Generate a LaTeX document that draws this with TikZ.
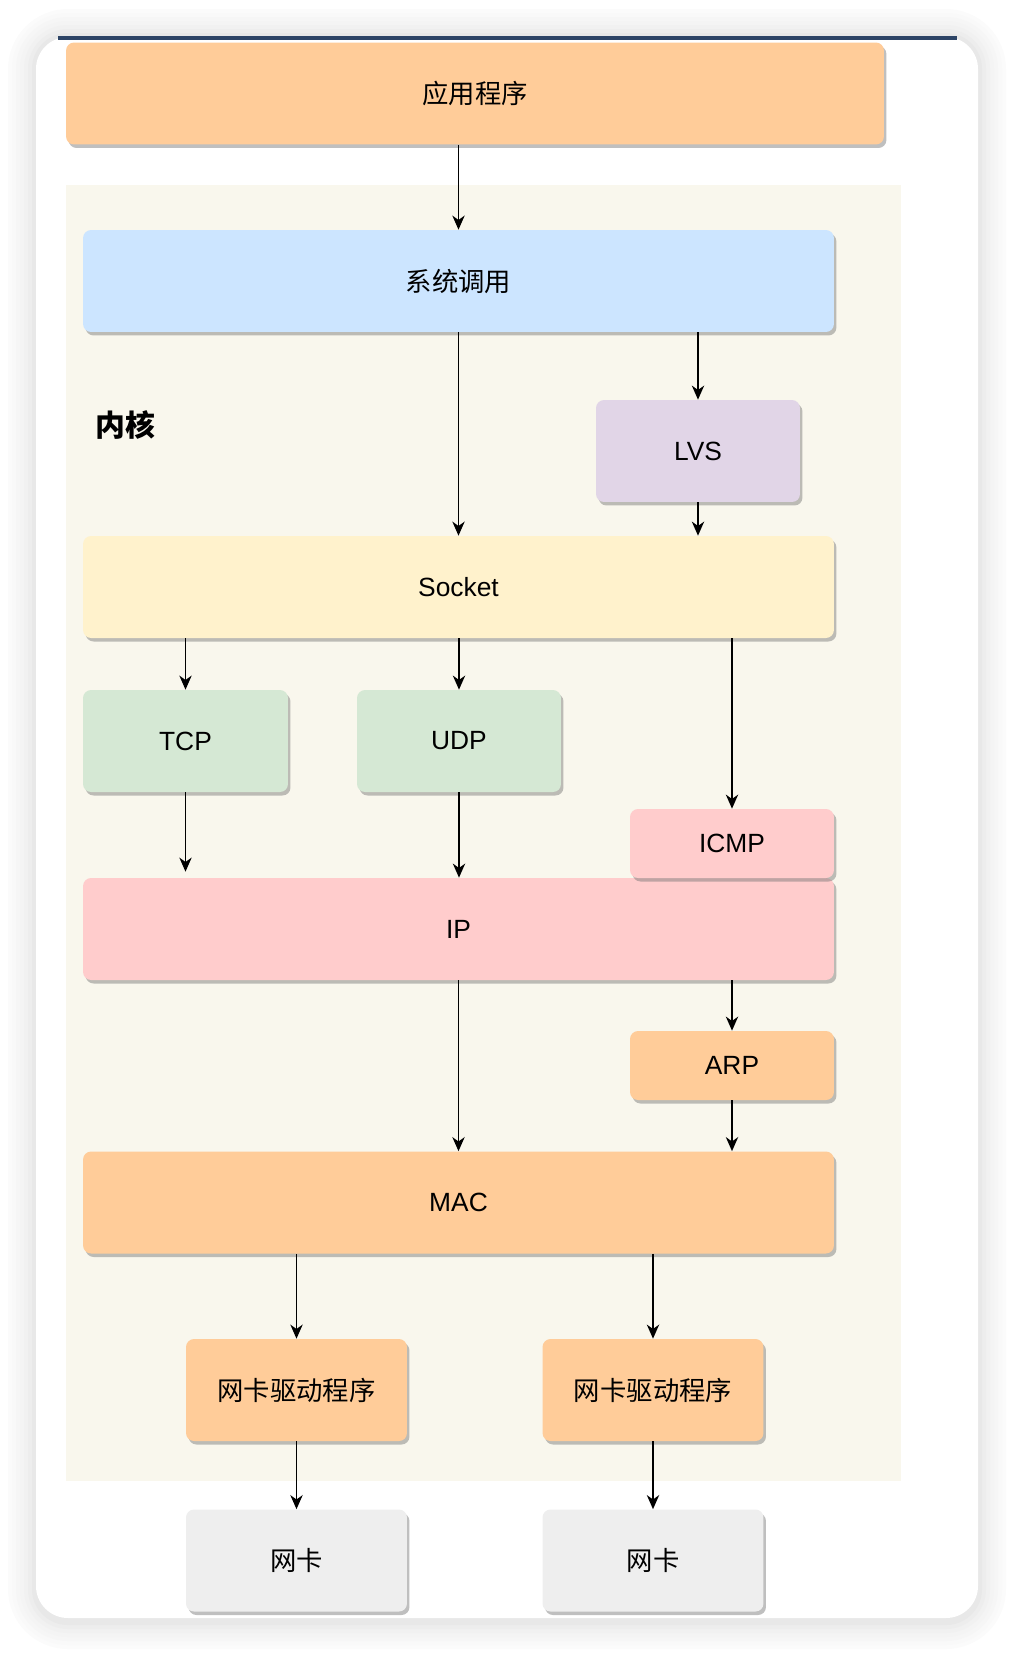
\documentclass[tikz,border=0pt]{standalone}
\usepackage{fontspec}
\setmainfont{Liberation Sans}
\newfontfamily\cjk{Noto Sans CJK SC}
\usetikzlibrary{arrows.meta,shadows}

\definecolor{appfill}{HTML}{FFCC99}
\definecolor{sysfill}{HTML}{CCE5FF}
\definecolor{lvsfill}{HTML}{E1D5E7}
\definecolor{sockfill}{HTML}{FFF2CC}
\definecolor{tcpfill}{HTML}{D5E8D4}
\definecolor{ipfill}{HTML}{FFCCCC}
\definecolor{nicfill}{HTML}{EEEEEE}
\definecolor{kernelfill}{HTML}{F9F7ED}
\definecolor{topline}{HTML}{2D4466}

\newcommand{\boxfont}{\fontsize{15pt}{18pt}\selectfont}

\begin{document}
\begin{tikzpicture}[x=0.02cm, y=-0.02cm]
        \useasboundingbox (0,0) rectangle (1014,1654);
        % card and its soft shadow
        \foreach \d/\c in {28/1.5, 24/2.5, 20/3.5, 16/4.5, 12/5.5, 8/7, 4/9}
            \fill[black!\c, rounded corners=0.64cm+\d*0.02cm] (36-\d,37-\d) rectangle (978+\d,1621+\d);
        \fill[white, rounded corners=0.64cm] (36,37) rectangle (978,1618);
        \draw[topline, line width=1.8pt] (58,38) -- (957,38);
        % kernel area
        \fill[kernelfill] (66,185) rectangle (901,1481);
        \node (kernel) at (125,425) {\cjk\bfseries\fontsize{17pt}{20pt}\selectfont 内核};
        \begin{scope}[every node/.style={inner sep=0, rounded corners=0.16cm, minimum height=2.04cm, font=\boxfont, drop shadow={shadow xshift=0.05cm, shadow yshift=-0.07cm, fill=black!55, opacity=.45}}]
            \node[fill=appfill, minimum width=16.36cm] (app) at (475,93.5) {\cjk 应用程序};
            \node[fill=sysfill, minimum width=15.02cm] (sys) at (458.5,281) {\cjk 系统调用};
            \node[fill=lvsfill, minimum width=4.08cm] (lvs) at (698,451) {LVS};
            \node[fill=sockfill, minimum width=15.02cm] (sock) at (458.5,587) {Socket};
            \node[fill=tcpfill, minimum width=4.1cm] (tcp) at (185.5,741) {TCP};
            \node[fill=tcpfill, minimum width=4.08cm] (udp) at (459,741) {UDP};
            \node[fill=ipfill, minimum width=15.02cm] (ip) at (458.5,929) {IP};
            \node[fill=ipfill, minimum width=4.08cm, minimum height=1.38cm] (icmp) at (732,843.5) {ICMP};
            \node[fill=appfill, minimum width=4.08cm, minimum height=1.38cm] (arp) at (732,1065.5) {ARP};
            \node[fill=appfill, minimum width=15.02cm] (mac) at (458.5,1202.5) {MAC};
            \node[fill=appfill, minimum width=4.42cm] (drv1) at (296.5,1390) {\cjk 网卡驱动程序};
            \node[fill=appfill, minimum width=4.42cm] (drv2) at (653,1390) {\cjk 网卡驱动程序};
            \node[fill=nicfill, minimum width=4.42cm] (nic1) at (296.5,1560.5) {\cjk 网卡};
            \node[fill=nicfill, minimum width=4.42cm] (nic2) at (653,1560.5) {\cjk 网卡};
        \end{scope}
        \begin{scope}[->, >={Stealth[length=8pt, width=7pt, inset=2.5pt]}, line width=0.95pt]
            \draw (sys.north |- app.south) -- (sys.north);
            \draw (sys.south) -- (sock.north);
            \draw (sys.south -| lvs.north) -- (lvs.north);
            \draw (lvs.south) -- (lvs.south |- sock.north);
            \draw (sock.south -| tcp.north) -- (tcp.north);
            \draw (sock.south -| udp.north) -- (udp.north);
            \draw (sock.south -| icmp.north) -- (icmp.north);
            \draw[shorten >=0.12cm] (tcp.south) -- (tcp.south |- ip.north);
            \draw (udp.south) -- (udp.south |- ip.north);
            \draw (ip.south) -- (mac.north);
            \draw (ip.south -| arp.north) -- (arp.north);
            \draw (arp.south) -- (arp.south |- mac.north);
            \draw (mac.south -| drv1.north) -- (drv1.north);
            \draw (mac.south -| drv2.north) -- (drv2.north);
            \draw (drv1.south) -- (nic1.north);
            \draw (drv2.south) -- (nic2.north);
        \end{scope}
\end{tikzpicture}
\end{document}
